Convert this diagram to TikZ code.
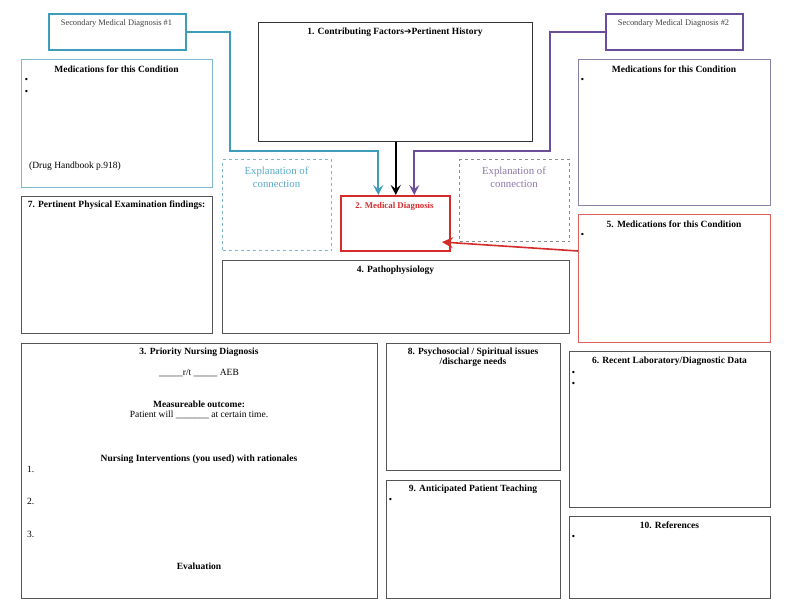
\documentclass[tikz,border=0pt]{standalone}
\usepackage{fontspec}
\setmainfont{Liberation Serif}
\newfontfamily\symf{DejaVu Sans}
\usetikzlibrary{arrows.meta}
\definecolor{teal1}{HTML}{3E9DBA}
\definecolor{tealtext}{HTML}{5AAAC7}
\definecolor{teallite}{HTML}{7DB8CF}
\definecolor{purp1}{HTML}{6B4E97}
\definecolor{purptext}{HTML}{8C77AE}
\definecolor{purplite}{HTML}{8A80A8}
\definecolor{red1}{HTML}{D42B2B}
\definecolor{redlite}{HTML}{E06060}
\definecolor{boxgray}{HTML}{555555}
\tikzset{
  box/.style={draw=boxgray, line width=1pt, anchor=north west, inner sep=0pt},
  title/.style={font=\bfseries\fontsize{9.5}{11}\selectfont, inner sep=0pt, align=center},
  body/.style={font=\fontsize{9.5}{11}\selectfont, inner sep=0pt},
  small/.style={font=\fontsize{8.4}{10}\selectfont, inner sep=0pt},
  expl/.style={font=\fontsize{10.8}{13}\selectfont, inner sep=0pt, align=center},
  bul/.style={font=\symf\fontsize{8}{10}\selectfont, inner sep=0pt},
  conn/.style={line width=1.8pt, -{Stealth[length=10pt,width=10pt,inset=4pt]}},
}
\begin{document}
\begin{tikzpicture}[x=1pt,y=-1pt]
\useasboundingbox[fill=white] (0,0) rectangle (794,610);

% boxes
\node[box, draw=teal1, line width=1.8pt, minimum width=137pt, minimum height=36pt] (s1) at (48,13) {};
\node[box, draw=purp1, line width=1.8pt, minimum width=137pt, minimum height=36pt] (s2) at (605,13) {};
\node[box, draw=teallite, minimum width=191pt, minimum height=128pt] (ml) at (21,59) {};
\node[box, draw=purplite, minimum width=192pt, minimum height=146pt] (mr) at (578,59) {};
\node[box, draw=black!80, minimum width=274pt, minimum height=119pt] (b1) at (258,22) {};
\node[box, draw=teallite, dashed, minimum width=109pt, minimum height=91pt] (el) at (222,159) {};
\node[box, draw=black!45, dashed, minimum width=110pt, minimum height=82pt] (er) at (459,159) {};
\node[box, draw=red1, line width=1.5pt, minimum width=109pt, minimum height=55pt] (md) at (340,195) {};
\node[box, draw=redlite, minimum width=192pt, minimum height=128pt] (m5) at (578,214) {};
\node[box, minimum width=191pt, minimum height=137pt] (b7) at (21,196) {};
\node[box, minimum width=347pt, minimum height=73pt] (b4) at (222,260) {};
\node[box, minimum width=356pt, minimum height=255pt] (b3) at (21,343) {};
\node[box, minimum width=174pt, minimum height=127pt] (b8) at (386,343) {};
\node[box, minimum width=174pt, minimum height=118pt] (b9) at (386,480) {};
\node[box, minimum width=201pt, minimum height=156pt] (b6) at (569,351) {};
\node[box, minimum width=201pt, minimum height=82pt] (b10) at (569,516) {};

% texts
\node[small, text=black!75] (t-s1) at (116.5,23) {Secondary Medical Diagnosis \#1};
\node[small, text=black!75] (t-s2) at (673.5,23) {Secondary Medical Diagnosis \#2};
\node[title] (t-ml) at (116.5,69) {Medications for this Condition};
\node[bul, anchor=west] (t-ml1) at (24,80) {•};
\node[bul, anchor=west] (t-ml2) at (24,92) {•};
\node[body, anchor=west] (t-dh) at (29,166) {(Drug Handbook p.918)};
\node[title] (t-mr) at (674,69) {Medications for this Condition};
\node[bul, anchor=west] (t-mr1) at (580,80) {•};
\node[title] (t-b1) at (395,32) {1. Contributing Factors{\symf\fontsize{9}{10}\selectfont ➔}Pertinent History};
\node[expl, text=tealtext] (t-el) at (276.5,177) {Explanation of\\connection};
\node[expl, text=purptext] (t-er) at (514,177) {Explanation of\\connection};
\node[title, text=red1, font=\bfseries\fontsize{8.8}{10}\selectfont] (t-md) at (394.5,206) {2. Medical Diagnosis};
\node[title] (t-m5) at (674,224) {5. Medications for this Condition};
\node[bul, anchor=west] (t-m51) at (580,235) {•};
\node[title] (t-b7) at (116.5,205) {7. Pertinent Physical Examination findings:};
\node[title] (t-b4) at (395.5,270) {4. Pathophysiology};
\node[title] (t-b3) at (199,352) {3. Priority Nursing Diagnosis};
\node[body] (t-rt) at (199,373) {\_\_\_\_\_r/t \_\_\_\_\_ AEB};
\node[title] (t-mo) at (199,404) {Measureable outcome:};
\node[body] (t-pw) at (199,415) {Patient will \_\_\_\_\_\_\_ at certain time.};
\node[title] (t-ni) at (199,459) {Nursing Interventions (you used) with rationales};
\node[body, anchor=west] (t-n1) at (27,469) {1.};
\node[body, anchor=west] (t-n2) at (27,501) {2.};
\node[body, anchor=west] (t-n3) at (27,534) {3.};
\node[title] (t-ev) at (199,566) {Evaluation};
\node[title, font=\bfseries\fontsize{9.5}{10.4}\selectfont] (t-b8) at (473,357) {8. Psychosocial / Spiritual issues\\/discharge needs};
\node[title] (t-b9) at (473,489) {9. Anticipated Patient Teaching};
\node[bul, anchor=west] (t-b91) at (388,500) {•};
\node[title] (t-b6) at (669.5,361) {6. Recent Laboratory/Diagnostic Data};
\node[bul, anchor=west] (t-b61) at (571,373) {•};
\node[bul, anchor=west] (t-b62) at (571,384) {•};
\node[title] (t-b10) at (669.5,525) {10. References};
\node[bul, anchor=west] (t-b101) at (571,537) {•};

% connectors
\draw[conn, teal1] (s1.east) -| (230,151) -| ([xshift=-17pt]md.north);
\draw[conn, black] (b1.south -| md.north) ++(0.5,0) -- ([xshift=0.5pt]md.north);
\draw[conn, purp1] (s2.west) -| (550,151) -| ([xshift=19pt]md.north);
\coordinate (rs) at (578,251);
\coordinate (re) at (442,242);
\draw[red1, line width=1.6pt, -{Stealth[length=11pt,width=11pt,inset=4pt]}] (rs) -- (re);
\end{tikzpicture}
\end{document}
